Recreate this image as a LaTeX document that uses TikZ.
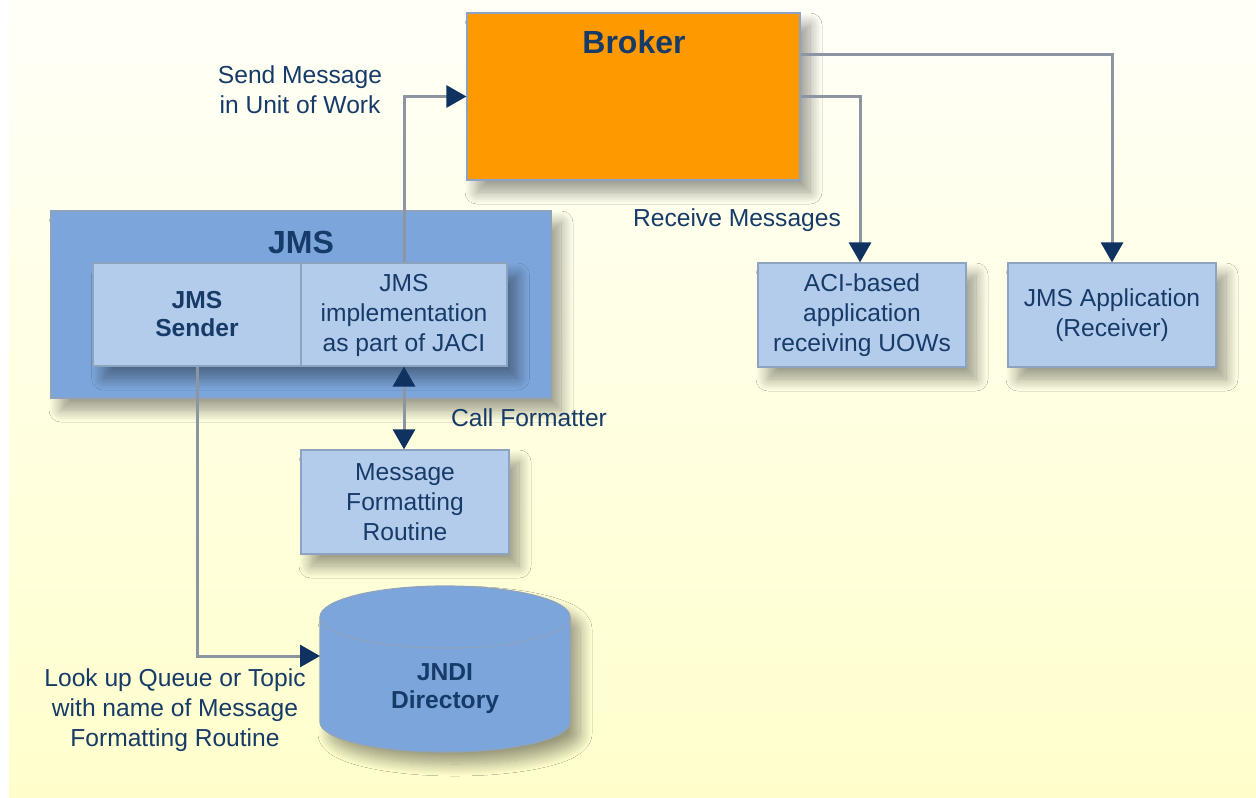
\documentclass[tikz,border=0pt]{standalone}
\usepackage{fontspec}
\setmainfont{Liberation Sans}
\usetikzlibrary{arrows.meta,shadows.blur}
\definecolor{bgtop}{HTML}{FFFFF8}
\definecolor{bgbot}{HTML}{FFFFCC}
\definecolor{brokerc}{HTML}{FF9900}
\definecolor{jmsc}{HTML}{7CA6DB}
\definecolor{boxc}{HTML}{B4CCEC}
\definecolor{edgec}{HTML}{8EA3BF}
\definecolor{textc}{HTML}{173B69}
\definecolor{linec}{HTML}{8C95A1}
\definecolor{tipc}{HTML}{0F3261}
\tikzset{
	txt/.style={font=\fontsize{12.3}{15}\selectfont},
	boldtxt/.style={font=\bfseries\fontsize{12.3}{14}\selectfont},
	titletxt/.style={font=\bfseries\fontsize{16}{19}\selectfont},
	box/.style={draw=edgec,line width=.6pt,fill=boxc,align=center,inner sep=0pt,
		minimum width=104pt,minimum height=52pt,text=textc,txt},
	shade box/.style={blur shadow={shadow xshift=5pt,shadow yshift=-6pt,
		shadow blur radius=6pt,shadow blur steps=16,shadow opacity=40}},
	lbl/.style={text=textc,txt,align=center,inner sep=0pt},
	navytip/.tip={Triangle[length=10pt,width=11pt,color=tipc]},
	conn/.style={draw=linec,line width=1.5pt,-navytip},
}
\begin{document}
\begin{tikzpicture}[x=0.5pt,y=-0.5pt]
	\useasboundingbox (0,0) rectangle (1256,797);
	% background
	\fill[white] (0,0) rectangle (1256,797);
	\shade[top color=bgtop,bottom color=bgbot] (9,0) rectangle (1256,797);

	% broker
	\node[box,fill=brokerc,minimum width=166.5pt,minimum height=83.5pt,shade box] (broker) at (633.5,96.5) {};
	\node[lbl,titletxt] (brokertitle) at (634,42) {Broker};

	% jms
	\node[box,fill=jmsc,minimum width=250pt,minimum height=93.5pt,shade box] (jms) at (301,304.5) {};
	\node[lbl,titletxt] (jmstitle) at (301,242) {JMS};
	\node[box,minimum width=207pt,minimum height=51.5pt,shade box] (inner) at (300.5,314.5) {};
	\node[box,minimum height=51.5pt,fill=none] (sender) at (197,314.5) {};
	\node[box,minimum width=103pt,minimum height=51.5pt,fill=none] (impl) at (404,314.5) {};
	\node[box,draw=none,fill=none,boldtxt] (sendertxt) at (197,314.5) {JMS\\Sender};
	\node[box,draw=none,fill=none] (impltxt) at (404,315) {JMS\\implementation\\as part of JACI};

	% receivers
	\node[box,shade box] (aci) at (862,315) {ACI-based\\application\\receiving UOWs};
	\node[box,shade box] (jmsapp) at (1112,315) {JMS Application\\(Receiver)};

	% formatter
	\node[box,shade box] (mfr) at (405,502) {Message\\Formatting\\Routine};

	% directory
	\path[fill=jmsc,draw=edgec,line width=.6pt,shade box] (320,617) -- (320,722)
		arc[start angle=180,end angle=360,x radius=62.5pt,y radius=15pt] -- (570,617)
		arc[start angle=0,end angle=180,x radius=62.5pt,y radius=15.5pt] -- cycle;
	\draw[edgec,line width=.6pt] (570,617) arc[start angle=0,end angle=-180,x radius=62.5pt,y radius=15.5pt];
	\node[lbl,boldtxt] (jndi) at (445,689) {JNDI\\Directory};
	\coordinate (jndiin) at (320,656);

	% labels
	\node[lbl] (sendlbl) at (300,90) {Send Message\\in Unit of Work};
	\node[lbl] (recvlbl) at (737,220) {Receive Messages};
	\node[lbl] (calllbl) at (529,418) {Call Formatter};
	\node[lbl] (lookuplbl) at (175,710) {Look up Queue or Topic\\with name of Message\\Formatting Routine};

	% connectors
	\draw[conn] (impl.north) |- (broker.west);
	\draw[conn] ([yshift=20.75pt]broker.east) -| (jmsapp.north);
	\draw[conn] (broker.east) -| ([xshift=-1pt]aci.north);
	\draw[conn,navytip-navytip] (impl.south) -- (impl.south |- mfr.north);
	\draw[conn] (sender.south) |- (jndiin);
\end{tikzpicture}
\end{document}
